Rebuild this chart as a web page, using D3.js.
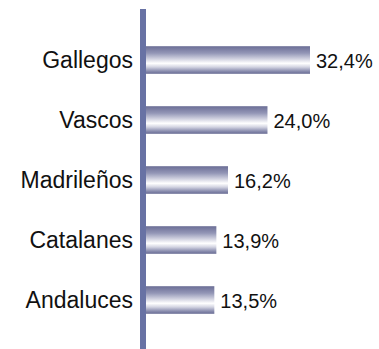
<!DOCTYPE html>
<html>
<head>
<meta charset="utf-8">
<script src="https://cdn.jsdelivr.net/npm/d3@7/dist/d3.min.js"></script>
<style>
  html, body { margin: 0; padding: 0; background: #fff; }
  svg { display: block; }
  text { font-family: "Liberation Sans", Arial, sans-serif; fill: #111; }
</style>
</head>
<body>
<svg id="chart" width="379" height="349"></svg>
<script>
// Share of each group (percent)
const categories = ["Gallegos", "Vascos", "Madrileños", "Catalanes", "Andaluces"];
const values = [32.4, 24.0, 16.2, 13.9, 13.5];
const valueLabels = ["32,4%", "24,0%", "16,2%", "13,9%", "13,5%"];

const svg = d3.select("#chart");
const width = 379, height = 349;

const x = d3.scaleLinear().domain([0, 32.4]).range([146, 310]);
const y = d3.scaleBand().domain(categories).range([30, 330]).paddingInner(0.54).paddingOuter(0.27);

// Metallic vertical shading for bars
const defs = svg.append("defs");
const grad = defs.append("linearGradient")
  .attr("id", "barShade").attr("x1", 0).attr("y1", 0).attr("x2", 0).attr("y2", 1);
[
  [0, "#6b6e96"], [0.25, "#9396b6"], [0.5, "#dcdde8"], [0.62, "#ffffff"],
  [0.75, "#d5d6e3"], [0.9, "#8c8fb0"], [1, "#696c94"]
].forEach(([o, c]) => grad.append("stop").attr("offset", o).attr("stop-color", c));

const data = categories.map((c, i) => ({ c, v: values[i], label: valueLabels[i] }));

svg.selectAll("rect.bar").data(data).join("rect")
  .attr("class", "bar")
  .attr("x", x(0))
  .attr("y", d => y(d.c))
  .attr("width", d => x(d.v) - x(0))
  .attr("height", y.bandwidth())
  .attr("fill", "url(#barShade)");

// Value labels
svg.selectAll("text.val").data(data).join("text")
  .attr("class", "val")
  .attr("x", d => x(d.v) + 6)
  .attr("y", d => y(d.c) + y.bandwidth() / 2 + 8)
  .attr("font-size", 20)
  .text(d => d.label);

// Category axis
const axis = d3.axisLeft(y).tickSize(0).tickPadding(7);
const g = svg.append("g").attr("transform", `translate(140,0)`).call(axis);
g.select(".domain").remove();
g.selectAll("text")
  .attr("font-size", 23)
  .attr("dy", "0.36em")
  .style("font-family", '"Liberation Sans", Arial, sans-serif')
  .attr("fill", "#111");

svg.append("rect")
  .attr("x", 140).attr("y", 9)
  .attr("width", 6).attr("height", height - 9)
  .attr("fill", "#6872a4");
</script>
</body>
</html>
